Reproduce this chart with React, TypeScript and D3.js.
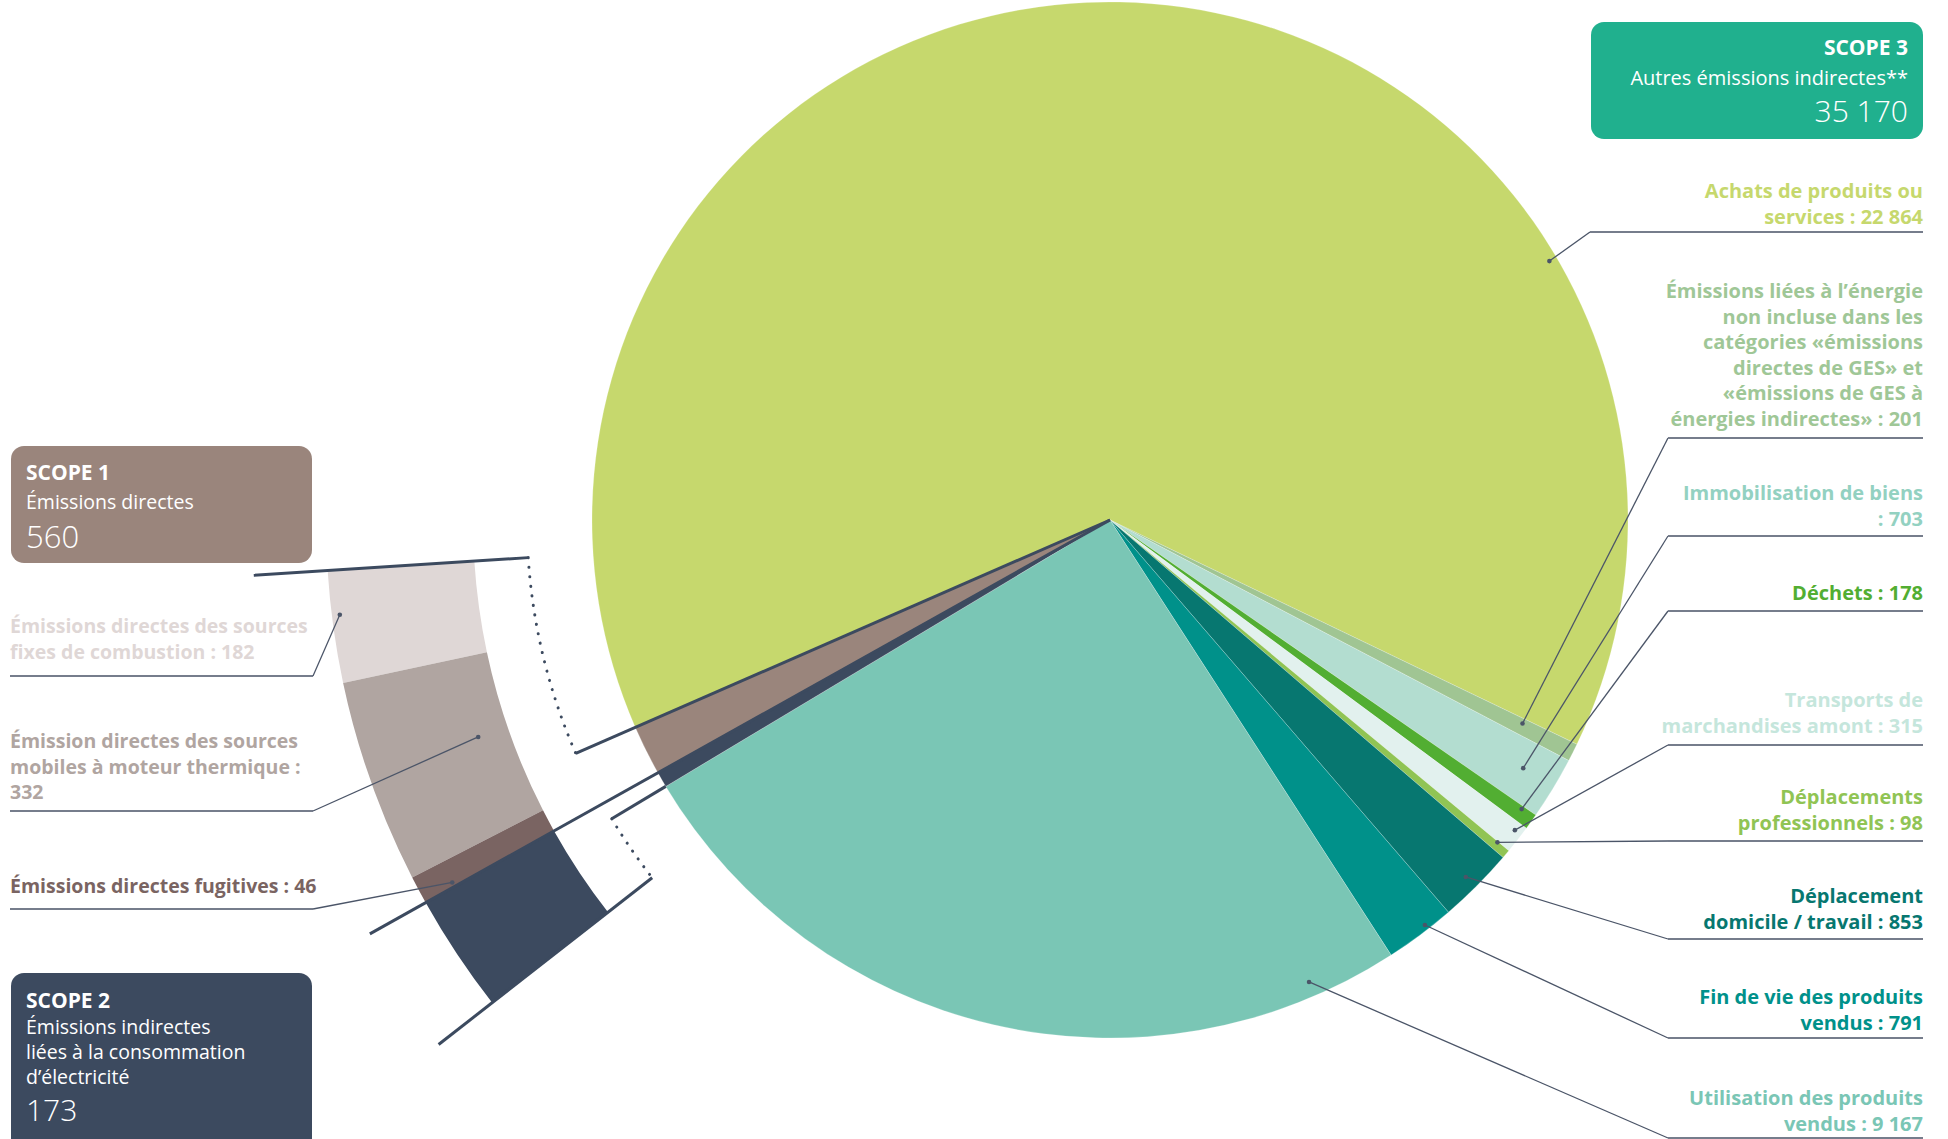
import React from "react";
import * as d3 from "d3";

// ---------- DATA ----------
const scope3Categories = [
  "Achats de produits ou services",
  "Émissions liées à l’énergie",
  "Immobilisation de biens",
  "Déchets",
  "Transports de marchandises amont",
  "Déplacements professionnels",
  "Déplacement domicile / travail",
  "Fin de vie des produits vendus",
  "Utilisation des produits vendus",
];
const scope3Values = [22864, 201, 703, 178, 315, 98, 853, 791, 9167];
const scope3Colors = ["#C6D86D", "#A0C593", "#B3DDD0", "#52AE32", "#E2F1EE", "#90C454", "#077770", "#00918A", "#7AC6B5"];
const scope3LabelColors = ["#C6D86D", "#9FC797", "#93D1C1", "#52AE32", "#C5E6DC", "#90C454", "#077770", "#00918A", "#7AC6B5"];
const scope3LabelLines = [
  ["Achats de produits ou", "services : {v}"],
  ["Émissions liées à l’énergie", "non incluse dans les", "catégories «émissions", "directes de GES» et", "«émissions de GES à", "énergies indirectes» : {v}"],
  ["Immobilisation de biens", ": {v}"],
  ["Déchets : {v}"],
  ["Transports de", "marchandises amont : {v}"],
  ["Déplacements", "professionnels : {v}"],
  ["Déplacement", "domicile / travail : {v}"],
  ["Fin de vie des produits", "vendus : {v}"],
  ["Utilisation des produits", "vendus : {v}"],
];

const scope1Categories = ["Émissions directes des sources fixes de combustion", "Émission directes des sources mobiles à moteur thermique", "Émissions directes fugitives"];
const scope1Values = [182, 332, 46];
const scope1Colors = ["#DFD7D6", "#B0A5A1", "#7A6462"];
const scope1LabelLines = [
  ["Émissions directes des sources", "fixes de combustion : {v}"],
  ["Émission directes des sources", "mobiles à moteur thermique :", "{v}"],
  ["Émissions directes fugitives : {v}"],
];

const scope2Values = [173];
const scopeColors = { s1: "#9A857C", s2: "#3C4A5F", s3: "#20B08E" };

// ---------- LAYOUT ----------
const W = 1948, H = 1139;
const cx = 1110, cy = 520, R = 518;
const deg = Math.PI / 180;
const pieStart = 246.4 * deg;
const bandStart = 266.3 * deg, bandEnd = 232 * deg;
const bandInner = 637, bandOuter = 784;
const LH = 25.6;
const rightX = 1923;
const rightLayout = [
  { y: 198, u: 232, ex: 1590, t: 0.755, r: 510 },
  { y: 298, u: 438, ex: 1668, t: 0.3, r: 460 },
  { y: 500, u: 536, ex: 1668, t: 0.47, r: 482 },
  { y: 600, u: 611, ex: 1668, t: 0.2, r: 503 },
  { y: 707, u: 745, ex: 1668, t: 0.3, r: 510 },
  { y: 804, u: 841, ex: 1668, t: 0.1, r: 504 },
  { y: 903, u: 939, ex: 1668, t: 0.52, r: 504 },
  { y: 1004, u: 1038, ex: 1668, t: 0.37, r: 513 },
  { y: 1105, u: 1138, ex: 1668, t: 0.104, r: 503 },
];
const leftLayout = [
  { y: 633, u: 676, t: 0.4, r: 776 },
  { y: 748, u: 811, t: 0.46, r: 668 },
  { y: 893, u: 909, t: 0.83, r: 751 },
];

const locale = d3.formatLocale({ decimal: ",", thousands: " ", grouping: [3], currency: ["", "€"] });
const fmt = locale.format(",d");

const pt = (a: number, r: number): [number, number] => [cx + r * Math.sin(a), cy - r * Math.cos(a)];
const norm = (a: number) => ((a % (2 * Math.PI)) + 2 * Math.PI) % (2 * Math.PI);

const FONT = "'Open Sans', Lato, sans-serif";
const LINE = "#4B5568";
const UNDER = "#767D8C";
const NAVY = "#3C4A5F";

export default function App() {
  const mainValues = [...scope3Values, scope2Values[0], d3.sum(scope1Values)];
  const mainColors = [...scope3Colors, scopeColors.s2, scopeColors.s1];
  const pie = d3.pie<number>().sort(null).value((d) => d).startAngle(pieStart).endAngle(pieStart + 2 * Math.PI);
  const arcs = pie(mainValues);
  const arc = d3.arc<d3.PieArcDatum<number>>().innerRadius(0).outerRadius(R);

  const s2Arc = arcs[scope3Values.length];
  const s1Arc = arcs[scope3Values.length + 1];
  const boundary = norm(s1Arc.startAngle); // scope2 / scope1
  const s1End = norm(s1Arc.endAngle);
  const s2Start = norm(s2Arc.startAngle);

  const band1 = d3.pie<number>().sort(null).value((d) => d).startAngle(bandStart).endAngle(boundary)(scope1Values);
  const band2 = d3.pie<number>().sort(null).value((d) => d).startAngle(boundary).endAngle(bandEnd)(scope2Values);
  const bandArc = d3.arc<d3.PieArcDatum<number>>().innerRadius(bandInner).outerRadius(bandOuter);

  const dotted = (r: number, a0: number, a1: number) => {
    const p = d3.path();
    const s = pt(a0, r);
    p.moveTo(s[0], s[1]);
    p.arc(cx, cy, r, a0 - Math.PI / 2, a1 - Math.PI / 2, a1 < a0);
    return p.toString();
  };
  const radial = (a: number, r0: number, r1: number) => {
    const p0 = pt(a, r0), p1 = pt(a, r1);
    return `M${p0[0]},${p0[1]}L${p1[0]},${p1[1]}`;
  };

  const fill = (tpl: string, v: number) => tpl.replace("{v}", fmt(v));

  return (
    <svg width={W} height={H} viewBox={`0 0 ${W} ${H}`} style={{ position: "absolute", left: 0, top: 0, background: "#fff" }} fontFamily={FONT}>
      {/* main pie */}
      <g transform={`translate(${cx},${cy})`}>
        {arcs.map((a, i) => (
          <path key={i} d={arc(a) || ""} fill={mainColors[i]} stroke="#ffffff" strokeOpacity={0.35} strokeWidth={0.6} />
        ))}
      </g>

      {/* scope 1 / 2 band */}
      <g transform={`translate(${cx},${cy})`}>
        {band1.map((a, i) => (
          <path key={i} d={bandArc(a) || ""} fill={scope1Colors[i]} />
        ))}
        {band2.map((a, i) => (
          <path key={"b2" + i} d={bandArc(a) || ""} fill={scopeColors.s2} />
        ))}
      </g>

      {/* brackets */}
      <g stroke={NAVY} fill="none" strokeWidth={3}>
        <path d={radial(bandStart, 583, 858)} />
        <path d={dotted(583, bandStart, s1End)} strokeDasharray="0.1 9.5" strokeLinecap="round" />
        <path d={radial(s1End, 0, 583)} />
        <path d={radial(boundary, 0, 848)} />
        <path d={radial(s2Start, R, 581)} />
        <path d={dotted(581, s2Start, bandEnd)} strokeDasharray="0.1 9.5" strokeLinecap="round" />
        <path d={radial(bandEnd, 581, 852)} />
      </g>

      {/* right labels */}
      {scope3Values.map((v, i) => {
        const a = arcs[i];
        const L = rightLayout[i];
        const ang = a.startAngle + (a.endAngle - a.startAngle) * L.t;
        const p = pt(ang, L.r);
        const lines = scope3LabelLines[i];
        return (
          <g key={"r" + i}>
            <path d={`M${p[0]},${p[1]}L${L.ex},${L.u}`} stroke={LINE} strokeWidth={1.3} fill="none" />
            <line x1={L.ex} x2={rightX} y1={L.u} y2={L.u} stroke={UNDER} strokeWidth={1.8} />
            <circle cx={p[0]} cy={p[1]} r={2.3} fill={LINE} />
            <text textAnchor="end" fontWeight={700} fontSize={20} fill={scope3LabelColors[i]}>
              {lines.map((ln, j) => (
                <tspan key={j} x={rightX} y={L.y + j * LH}>{fill(ln, v)}</tspan>
              ))}
            </text>
          </g>
        );
      })}

      {/* left labels */}
      {scope1Values.map((v, i) => {
        const a = band1[i];
        const L = leftLayout[i];
        const ang = a.startAngle + (a.endAngle - a.startAngle) * L.t;
        const p = pt(ang, L.r);
        const lines = scope1LabelLines[i];
        return (
          <g key={"l" + i}>
            <line x1={10} x2={313} y1={L.u} y2={L.u} stroke={UNDER} strokeWidth={1.8} />
            <path d={`M313,${L.u}L${p[0]},${p[1]}`} stroke={LINE} strokeWidth={1.3} fill="none" />
            <circle cx={p[0]} cy={p[1]} r={2.3} fill={LINE} />
            <text textAnchor="start" fontWeight={700} fontSize={19.5} fill={scope1Colors[i]}>
              {lines.map((ln, j) => (
                <tspan key={j} x={10} y={L.y + j * LH}>{fill(ln, v)}</tspan>
              ))}
            </text>
          </g>
        );
      })}

      {/* scope boxes */}
      <g>
        <rect x={1591} y={22} width={332} height={117} rx={13} fill={scopeColors.s3} />
        <text textAnchor="end" fill="#fff">
          <tspan x={1908} y={55} fontWeight={700} fontSize={21}>SCOPE 3</tspan>
          <tspan x={1908} y={85} fontWeight={400} fontSize={20}>Autres émissions indirectes**</tspan>
          <tspan x={1908} y={122} fontWeight={300} fontSize={30}>{fmt(d3.sum(scope3Values))}</tspan>
        </text>

        <rect x={11} y={446} width={301} height={117} rx={13} fill={scopeColors.s1} />
        <text fill="#fff">
          <tspan x={26} y={480} fontWeight={700} fontSize={21}>SCOPE 1</tspan>
          <tspan x={26} y={509} fontWeight={400} fontSize={19.5}>Émissions directes</tspan>
          <tspan x={26} y={548} fontWeight={300} fontSize={31}>{fmt(d3.sum(scope1Values))}</tspan>
        </text>

        <rect x={11} y={973} width={301} height={190} rx={13} fill={scopeColors.s2} />
        <text fill="#fff">
          <tspan x={26} y={1008} fontWeight={700} fontSize={21}>SCOPE 2</tspan>
          <tspan x={26} y={1034} fontWeight={400} fontSize={19.5}>Émissions indirectes</tspan>
          <tspan x={26} y={1059} fontWeight={400} fontSize={19.5}>liées à la consommation</tspan>
          <tspan x={26} y={1084} fontWeight={400} fontSize={19.5}>d’électricité</tspan>
          <tspan x={26} y={1121} fontWeight={300} fontSize={30}>{fmt(d3.sum(scope2Values))}</tspan>
        </text>
      </g>
    </svg>
  );
}
